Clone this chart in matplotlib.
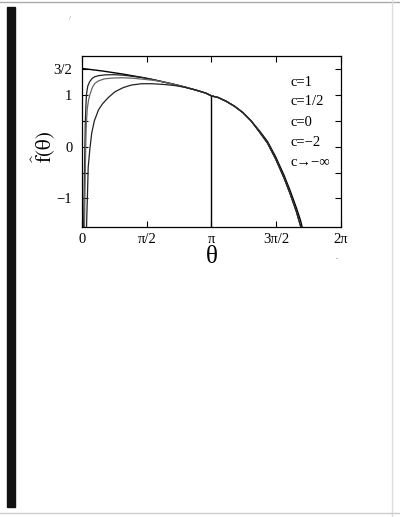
import numpy as np
import matplotlib
matplotlib.use('Agg')
import matplotlib.pyplot as plt
from matplotlib.patches import Rectangle
from matplotlib.lines import Line2D

plt.rcParams['font.family'] = ['Liberation Serif', 'DejaVu Serif']
plt.rcParams['mathtext.fontset'] = 'stix'

# upper envelope, starts at 3/2 for theta = 0
theta_top = [0.0, 0.25, 0.5, 0.75, 1.0, 1.25, 1.5, 1.75, 2.0, 2.25, 2.5, 2.75, 3.0, np.pi,
             3.3, 3.5, 3.7, 3.9, 4.1, 4.3, 4.5, 4.7, 4.9, 5.05, 5.2, 5.3, 5.34]
f_top = [1.51, 1.485, 1.46, 1.43, 1.40, 1.365, 1.33, 1.29, 1.245, 1.20, 1.15, 1.095, 1.035, 0.98,
         0.95, 0.875, 0.78, 0.66, 0.50, 0.31, 0.10, -0.20, -0.55, -0.85, -1.18, -1.42, -1.55]

# rising branches near theta = 0 for the finite c curves
theta_a = [0.04, 0.05, 0.06, 0.07, 0.08, 0.095, 0.11, 0.14, 0.19, 0.25, 0.31, 0.4, 0.55, 0.75, 1.0, 1.25]
f_a = [-1.55, -1.0, -0.5, 0.0, 0.45, 0.8, 1.02, 1.17, 1.26, 1.32, 1.35, 1.37, 1.385, 1.39, 1.38, 1.355]

theta_b = [0.06, 0.07, 0.08, 0.09, 0.105, 0.13, 0.16, 0.19, 0.25, 0.31, 0.4, 0.55, 0.75, 1.0,
           1.25, 1.5, 1.75]
f_b = [-1.55, -1.0, -0.5, 0.0, 0.45, 0.75, 0.9, 1.0, 1.14, 1.22, 1.27, 1.31, 1.325, 1.33,
       1.32, 1.30, 1.28]

theta_c = [0.11, 0.12, 0.13, 0.15, 0.19, 0.235, 0.3, 0.4, 0.5, 0.64, 0.8, 1.0, 1.2, 1.45,
           1.7, 2.0, 2.25, 2.5]
f_c = [-1.55, -1.25, -1.0, -0.4, -0.05, 0.26, 0.5, 0.71, 0.83, 0.95, 1.06, 1.14, 1.19, 1.215,
       1.215, 1.2, 1.18, 1.145]

# finite c curves split a little from the envelope near the bottom
theta_tail = [4.3, 4.5, 4.7, 4.9, 5.05, 5.2, 5.28, 5.31]
f_tail = [0.29, 0.07, -0.24, -0.60, -0.91, -1.25, -1.47, -1.55]

labels = ['c=1', 'c=1/2', 'c=0', 'c=\u22122', 'c\u2192\u2212\u221e']
label_y = [1.23, 0.87, 0.46, 0.08, -0.31]


def join(theta_rise, f_rise):
    # rising branch, then the shared envelope, then the split tail
    th_top = np.array(theta_top)
    ft = np.array(f_top)
    start = theta_rise[-1]
    mid = (th_top > start) & (th_top < theta_tail[0])
    th = np.concatenate([theta_rise, th_top[mid], theta_tail])
    f = np.concatenate([f_rise, ft[mid], f_tail])
    return th, f


fig = plt.figure(figsize=(4.0, 5.17), dpi=100)
fig.patch.set_facecolor('white')

# scanned page leftovers
fig.patches.append(Rectangle((7 / 400, 1 - 507 / 517), 8 / 400, 500 / 517,
                             transform=fig.transFigure, color='#111111', zorder=0))
fig.lines.append(Line2D([0, 1], [0.997, 0.997], transform=fig.transFigure, color='#aaaaaa', lw=1))
fig.lines.append(Line2D([392 / 400, 392 / 400], [0, 1], transform=fig.transFigure, color='#dddddd', lw=1))
fig.lines.append(Line2D([0, 1], [4 / 517, 4 / 517], transform=fig.transFigure, color='#cccccc', lw=1))
fig.text(70 / 400, 1 - 18 / 517, '/', fontsize=5, color='#888888', ha='center', va='center')
fig.text(337 / 400, 1 - 257 / 517, '.', fontsize=6, color='#555555', ha='center', va='center')

ax = fig.add_axes([82 / 400, 1 - 227 / 517, 259 / 400, 171 / 517])

ax.plot(theta_top, f_top, color='black', lw=1.0)
for th_r, f_r, col in [(theta_a, f_a, '#222222'), (theta_b, f_b, '#666666'), (theta_c, f_c, '#222222')]:
    th, f = join(th_r, f_r)
    ax.plot(th, f, color=col, lw=0.9)

ylo, yhi = -1.55, 1.75
ax.vlines(np.pi, ylo, f_top[theta_top.index(np.pi)], color='black', lw=1.0)

for lab, y in zip(labels, label_y):
    ax.text(5.07, y, lab, fontsize=10.5, ha='left', va='center')

ax.set_xlim(0, 2 * np.pi)
ax.set_ylim(ylo, yhi)
ax.set_xticks([0, np.pi / 2, np.pi, 3 * np.pi / 2, 2 * np.pi])
ax.set_xticklabels(['0', '\u03c0/2', '\u03c0', '3\u03c0/2', '2\u03c0'])
ax.set_yticks([-1, -0.5, 0, 0.5, 1, 1.5])
ax.set_yticklabels(['\u22121', '', '0', '', '1', '3/2'])
ax.tick_params(direction='in', top=True, right=True, length=4, width=0.8, labelsize=10.5)
ax.tick_params(axis='x', pad=4)
ax.tick_params(axis='y', pad=7)
for s in ax.spines.values():
    s.set_linewidth(0.9)

ax.set_xlabel('\u03b8', fontsize=18, labelpad=0)
fig.text(43 / 400, 1 - 147 / 517, '$\\widehat{\\mathrm{f}}\\mathrm{(\u03b8)}$', rotation=90, fontsize=15,
         ha='center', va='center')

fig.savefig('out.png', dpi=100, facecolor='white')
